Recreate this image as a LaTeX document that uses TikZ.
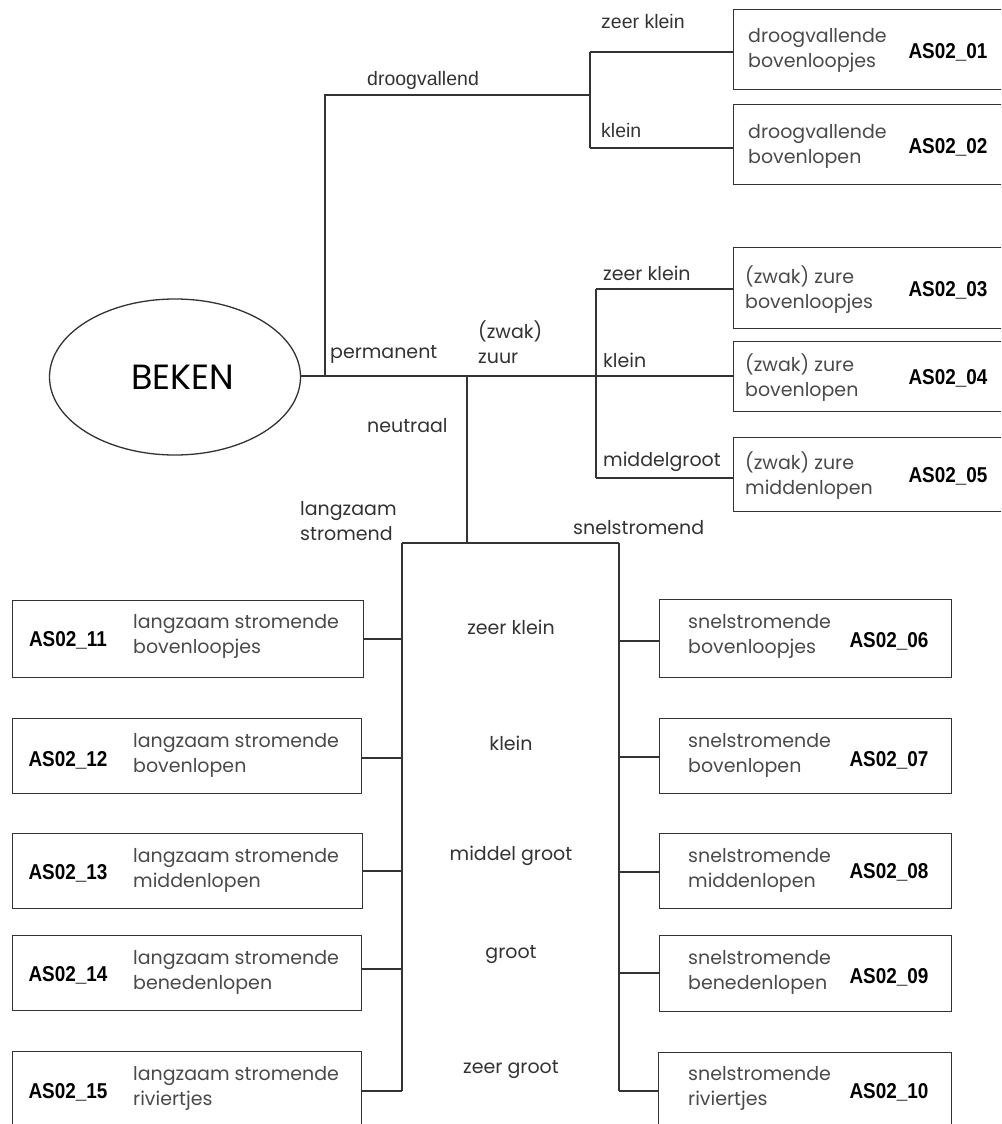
\documentclass[tikz,border=0pt]{standalone}
\usepackage{fontspec}
\setmainfont{Poppins}
\newfontfamily\arialf{Liberation Sans}
\newfontfamily\codef[FakeStretch=0.88]{Liberation Sans Bold}
\usetikzlibrary{shapes.geometric}
\definecolor{ln}{HTML}{333333}
\definecolor{tx}{HTML}{4A4A4A}
\begin{document}
\begin{tikzpicture}[x=1pt,y=-1pt,
  conn/.style={draw=ln, line width=1.3pt},
  boxst/.style={draw=ln, line width=1.3pt, rectangle, anchor=north west, inner sep=0pt},
  desc/.style={anchor=west, align=left, text=tx, font=\fontsize{19}{25}\selectfont, inner sep=0pt},
  code/.style={font=\codef\fontsize{21.5}{25}\selectfont, text=black, inner sep=0pt},
  lab/.style={anchor=west, text=ln, font=\fontsize{19}{25}\selectfont, inner sep=0pt},
  alab/.style={anchor=west, text=ln, font=\arialf\fontsize{19.5}{25}\selectfont, inner sep=0pt}]
\useasboundingbox (0,0) rectangle (1001,1124);
\clip (0,0) rectangle (1001,1124);
\fill[white] (0,0) rectangle (1001,1124);

% root
\node[ellipse, draw=ln, line width=1.3pt, minimum width=251pt, minimum height=156pt, inner sep=0pt] (beken) at (175,377) {};
\node[inner sep=0pt, text=black, font=\fontsize{35}{38}\selectfont] (bekentxt) at (183,377) {BEKEN};

% right top boxes
\node[boxst, minimum width=280pt, minimum height=80pt] (b01) at (733,9) {};
\node[desc] (d01) at (748,50) {droogvallende\\bovenloopjes};
\node[code] (c01) at (948,52) {AS02\_01};
\node[boxst, minimum width=280pt, minimum height=80pt] (b02) at (733,104) {};
\node[desc] (d02) at (748,146) {droogvallende\\bovenlopen};
\node[code] (c02) at (948,147) {AS02\_02};
\node[boxst, minimum width=280pt, minimum height=81pt] (b03) at (733,247) {};
\node[desc] (d03) at (745,290) {(zwak) zure\\bovenloopjes};
\node[code] (c03) at (948,290) {AS02\_03};
\node[boxst, minimum width=280pt, minimum height=70pt] (b04) at (733,341) {};
\node[desc] (d04) at (745,378) {(zwak) zure\\bovenlopen};
\node[code] (c04) at (948,378) {AS02\_04};
\node[boxst, minimum width=280pt, minimum height=74pt] (b05) at (733,437) {};
\node[desc] (d05) at (745,476) {(zwak) zure\\middenlopen};
\node[code] (c05) at (948,476) {AS02\_05};

% left lower boxes
\node[boxst, minimum width=351pt, minimum height=77pt] (b11) at (12,600) {};
\node[code] (c11) at (68,640) {AS02\_11};
\node[desc] (d11) at (133,636) {langzaam stromende\\bovenloopjes};
\node[boxst, minimum width=349pt, minimum height=75pt] (b12) at (12,718) {};
\node[code] (c12) at (68,760) {AS02\_12};
\node[desc] (d12) at (133,755) {langzaam stromende\\bovenlopen};
\node[boxst, minimum width=350pt, minimum height=75pt] (b13) at (12,833) {};
\node[code] (c13) at (68,873) {AS02\_13};
\node[desc] (d13) at (133,870) {langzaam stromende\\middenlopen};
\node[boxst, minimum width=349pt, minimum height=75pt] (b14) at (12,935) {};
\node[code] (c14) at (68,975) {AS02\_14};
\node[desc] (d14) at (133,972) {langzaam stromende\\benedenlopen};
\node[boxst, minimum width=349pt, minimum height=85pt] (b15) at (12,1051) {};
\node[code] (c15) at (68,1092) {AS02\_15};
\node[desc] (d15) at (133,1088) {langzaam stromende\\riviertjes};

% right lower boxes
\node[boxst, minimum width=292pt, minimum height=78pt] (b06) at (659,599) {};
\node[desc] (d06) at (688,636) {snelstromende\\bovenloopjes};
\node[code] (c06) at (889,641) {AS02\_06};
\node[boxst, minimum width=292pt, minimum height=75pt] (b07) at (659,718) {};
\node[desc] (d07) at (688,755) {snelstromende\\bovenlopen};
\node[code] (c07) at (889,760) {AS02\_07};
\node[boxst, minimum width=292pt, minimum height=75pt] (b08) at (659,833) {};
\node[desc] (d08) at (688,870) {snelstromende\\middenlopen};
\node[code] (c08) at (889,872) {AS02\_08};
\node[boxst, minimum width=292pt, minimum height=76pt] (b09) at (659,935) {};
\node[desc] (d09) at (688,972) {snelstromende\\benedenlopen};
\node[code] (c09) at (889,977) {AS02\_09};
\node[boxst, minimum width=293pt, minimum height=85pt] (b10) at (658,1052) {};
\node[desc] (d10) at (688,1088) {snelstromende\\riviertjes};
\node[code] (c10) at (889,1092) {AS02\_10};

% junction coordinates
\coordinate (P) at (325,376);
\coordinate (D) at (325,95);
\coordinate (Dj) at (590,95);
\coordinate (Da) at (590,52);
\coordinate (Db) at (590,148);
\coordinate (Za) at (596,289);
\coordinate (Zc) at (596,478);
\coordinate (N) at (467,376);
\coordinate (Nb) at (467,543);
\coordinate (L0) at (402,543);
\coordinate (R0) at (619,543);
\coordinate (L1) at (402,639);
\coordinate (L2) at (402,758);
\coordinate (L3) at (402,871);
\coordinate (L4) at (402,969);
\coordinate (L5) at (402,1091);
\coordinate (R1) at (619,641);
\coordinate (R2) at (619,757);
\coordinate (R3) at (619,872);
\coordinate (R4) at (619,973);
\coordinate (R5) at (619,1091);

% connectors
\draw[conn] (beken.east |- P) -- (P -| b04.west);
\draw[conn] (P) -- (D) -- (Dj);
\draw[conn] (Da) -- (Db);
\draw[conn] (Da) -- (Da -| b01.west);
\draw[conn] (Db) -- (Db -| b02.west);
\draw[conn] (Za) -- (Zc);
\draw[conn] (Za) -- (Za -| b03.west);
\draw[conn] (Zc) -- (Zc -| b05.west);
\draw[conn] (N) -- (Nb);
\draw[conn] (L0) -- (R0);
\draw[conn] (L0) -- (L5);
\draw[conn] (R0) -- (R5);
\draw[conn] (L1) -- (L1 -| b11.east);
\draw[conn] (L2) -- (L2 -| b12.east);
\draw[conn] (L3) -- (L3 -| b13.east);
\draw[conn] (L4) -- (L4 -| b14.east);
\draw[conn] (L5) -- (L5 -| b15.east);
\draw[conn] (R1) -- (R1 -| b06.west);
\draw[conn] (R2) -- (R2 -| b07.west);
\draw[conn] (R3) -- (R3 -| b08.west);
\draw[conn] (R4) -- (R4 -| b09.west);
\draw[conn] (R5) -- (R5 -| b10.west);

% labels
\node[alab] (ldroog) at (367,80) {droogvallend};
\node[alab] (lzk1) at (601,22) {zeer klein};
\node[alab] (lk1) at (601,131) {klein};
\node[lab] (lperm) at (330,354) {permanent};
\node[lab, align=left] (lzuur) at (478,342) {(zwak)\\zuur};
\node[lab] (lneut) at (367,426) {neutraal};
\node[lab] (lzk2) at (603,273) {zeer klein};
\node[lab] (lk2) at (603,360) {klein};
\node[lab] (lmg2) at (603,462) {middelgroot};
\node[lab, align=left] (llang) at (300,521) {langzaam\\stromend};
\node[lab] (lsnel) at (573,528) {snelstromend};
\node[lab, anchor=center] (lzk3) at (511,627) {zeer klein};
\node[lab, anchor=center] (lk3) at (511,743) {klein};
\node[lab, anchor=center] (lmg3) at (511,856) {middel groot};
\node[lab, anchor=center] (lg3) at (511,955) {groot};
\node[lab, anchor=center] (lzg3) at (511,1070) {zeer groot};
\end{tikzpicture}
\end{document}
